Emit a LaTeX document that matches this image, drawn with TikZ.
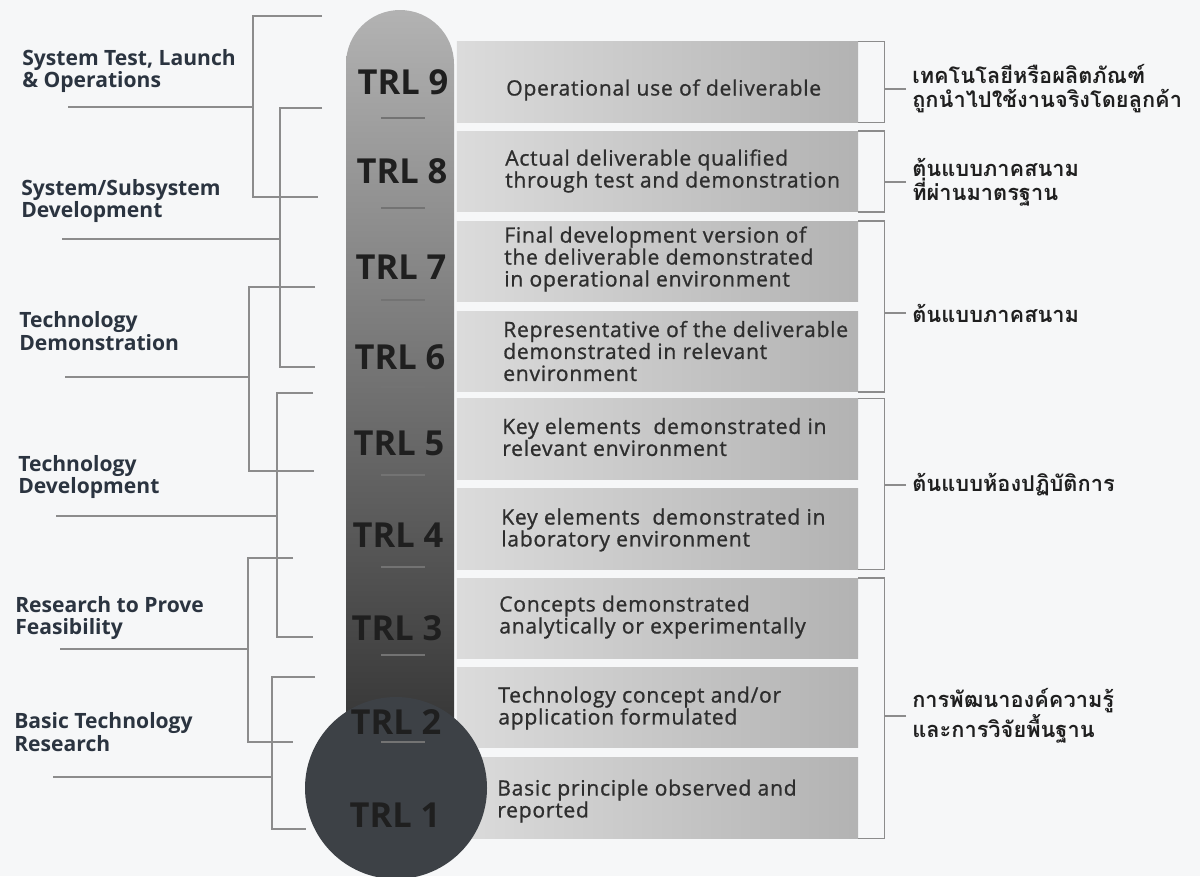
\documentclass[tikz,border=0pt]{standalone}
\usepackage{fontspec}
\setmainfont{Open Sans}
\newfontfamily\descfont{Open Sans}[FakeBold=1,LetterSpace=3.5]
\newfontfamily\thaifont[Script=Thai]{Loma}
\definecolor{pagebg}{RGB}{246,247,248}
\definecolor{labtext}{RGB}{43,52,64}
\definecolor{bulbgray}{RGB}{61,65,70}
\definecolor{linegray}{RGB}{140,140,140}

\begin{document}
\begin{tikzpicture}[x=0.025cm,y=-0.025cm,
  phase/.style={font=\bfseries\fontsize{15}{16}\selectfont,text=labtext,align=left,inner sep=0pt,anchor=west},
  trl/.style={font=\bfseries\fontsize{24.5}{24.5}\selectfont,text=black!88},
  descbox/.style={left color=black!14,right color=black!30,minimum width=10.025cm,minimum height=2.02cm,inner sep=0pt},
  desc/.style={font=\descfont\fontsize{15}{15.6}\selectfont,text=black!82,align=left,inner sep=0pt,anchor=west},
  thai/.style={font=\thaifont\bfseries\fontsize{15.5}{17}\selectfont,text=black!88,align=left,inner xsep=0.15cm,inner ysep=0pt,anchor=west},
  lbrack/.style={draw=linegray,line width=1.2pt},
  rbrack/.style={draw=linegray,line width=1pt},
  tick/.style={draw=black!55,line width=1.2pt}]
 \useasboundingbox (0,0) rectangle (1200,876);
 \fill[pagebg] (0,0) rectangle (1200,876);

 % description boxes
 \node[descbox] (b9) at (657.5,82) {};
 \node[descbox] (b8) at (657.5,171.5) {};
 \node[descbox] (b7) at (657.5,261.5) {};
 \node[descbox] (b6) at (657.5,351.5) {};
 \node[descbox] (b5) at (657.5,439) {};
 \node[descbox] (b4) at (657.5,529) {};
 \node[descbox] (b3) at (657.5,618.5) {};
 \node[descbox] (b2) at (657.5,707.5) {};
 \node[descbox] (b1) at (657.5,798) {};
 \node[desc] (d9) at (506,90) {Operational use of deliverable};
 \node[desc] (d8) at (505,171) {Actual deliverable qualified\\through test and demonstration};
 \node[desc] (d7) at (504,259) {Final development version of\\the deliverable demonstrated\\in operational environment};
 \node[desc] (d6) at (503,351) {Representative of the deliverable\\demonstrated in relevant\\environment};
 \node[desc] (d5) at (502,437) {Key elements~ demonstrated in\\relevant environment};
 \node[desc] (d4) at (501,530) {Key elements~ demonstrated in\\laboratory environment};
 \node[desc] (d3) at (499,617) {Concepts demonstrated\\analytically or experimentally};
 \node[desc] (d2) at (498,708) {Technology concept and/or\\application formulated};
 \node[desc] (d1) at (497,801) {Basic principle observed and\\reported};

 % thermometer
 \shade[top color=black!30,middle color=black!48,bottom color=black!78]
   (346,720) -- (346,64) arc[start angle=180,end angle=360,radius=54] -- (454,720) -- cycle;
 \fill[bulbgray] (396,788) circle[radius=91];
 \draw[tick] (381,118)--(425,118);
 \draw[tick] (381,208)--(425,208);
 \draw[tick] (381,300)--(425,300);
 \draw[tick] (381,387)--(425,387);
 \draw[tick] (381,475)--(425,475);
 \draw[tick] (381,567)--(425,567);
 \draw[tick] (381,655)--(425,655);
 \draw[tick] (381,742)--(425,742);
 \node[trl] (t9) at (403,82) {TRL 9};
 \node[trl] (t8) at (402,171) {TRL 8};
 \node[trl] (t7) at (401,267) {TRL 7};
 \node[trl] (t6) at (400,357) {TRL 6};
 \node[trl] (t5) at (399,443) {TRL 5};
 \node[trl] (t4) at (398,535) {TRL 4};
 \node[trl] (t3) at (397,628) {TRL 3};
 \node[trl] (t2) at (396,722) {TRL 2};
 \node[trl] (t1) at (395,815) {TRL 1};

 % right brackets
 \draw[rbrack] (b9.north east) -- ++(26,0) |- (b9.south east);
 \draw[rbrack] (b8.north east) -- ++(26,0) |- (b8.south east);
 \draw[rbrack] (b7.north east) -- ++(26,0) |- (b6.south east);
 \draw[rbrack] (b5.north east) -- ++(26,0) |- (b4.south east);
 \draw[rbrack] (b3.north east) -- ++(26,0) |- (b1.south east);
 \node[thai] (th9) at (906,89) {เทคโนโลยีหรือผลิตภัณฑ์\\ถูกนำไปใช้งานจริงโดยลูกค้า};
 \node[thai] (th8) at (906,182) {ต้นแบบภาคสนาม\\ที่ผ่านมาตรฐาน};
 \node[thai] (th7) at (906,313) {ต้นแบบภาคสนาม};
 \node[thai] (th5) at (906,485) {ต้นแบบห้องปฏิบัติการ};
 \node[thai] (th3) at (906,716) {การพัฒนาองค์ความรู้\\และการวิจัยพื้นฐาน};
 \draw[rbrack] (th9.west) -- ++(-22,0);
 \draw[rbrack] (th8.west) -- ++(-22,0);
 \draw[rbrack] (th7.west) -- ++(-22,0);
 \draw[rbrack] (th5.west) -- ++(-22,0);
 \draw[rbrack] (th3.west) -- ++(-22,0);

 % left phases
 \node[phase] (l1) at (22,71) {System Test, Launch\\\& Operations};
 \node[phase] (l2) at (21,201) {System/Subsystem\\Development};
 \node[phase] (l3) at (19,331) {Technology\\Demonstration};
 \node[phase] (l4) at (18,477) {Technology\\Development};
 \node[phase] (l5) at (15,618) {Research to Prove\\Feasibility};
 \node[phase] (l6) at (14,732) {Basic Technology\\Research};
 \coordinate (u1) at (68,107);  \coordinate (k1) at (253,107);
 \coordinate (u2) at (62,239);  \coordinate (k2) at (280,239);
 \coordinate (u3) at (65,377);  \coordinate (k3) at (249,377);
 \coordinate (u4) at (56,516);  \coordinate (k4) at (277,516);
 \coordinate (u5) at (60,649);  \coordinate (k5) at (248,649);
 \coordinate (u6) at (53,777);  \coordinate (k6) at (272,777);
 \draw[lbrack] (322,16) -| (k1) |- (318,197);
 \draw[lbrack] (322,108) -| (k2) |- (315,367);
 \draw[lbrack] (315,287) -| (k3) |- (314,471);
 \draw[lbrack] (313,393) -| (k4) |- (313,637);
 \draw[lbrack] (293,558) -| (k5) |- (293,742);
 \draw[lbrack] (315,677) -| (k6) |- (306,829);
 \draw[lbrack] (u1) -- (k1);
 \draw[lbrack] (u2) -- (k2);
 \draw[lbrack] (u3) -- (k3);
 \draw[lbrack] (u4) -- (k4);
 \draw[lbrack] (u5) -- (k5);
 \draw[lbrack] (u6) -- (k6);
\end{tikzpicture}
\end{document}
